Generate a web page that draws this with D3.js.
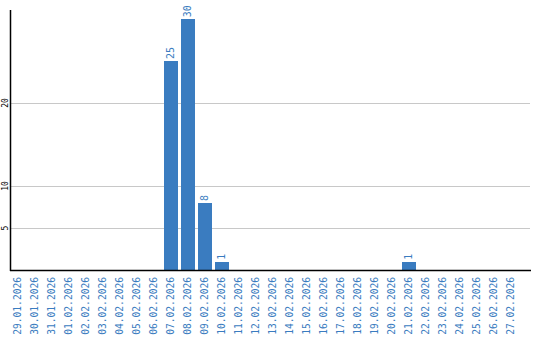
<!DOCTYPE html>
<html>
<head>
<meta charset="utf-8">
<script src="https://cdn.jsdelivr.net/npm/d3@7"></script>
<style>
  body { margin: 0; background: #fff; }
</style>
</head>
<body>
<div id="chart"></div>
<script>
// data
const dates = ["29.01.2026","30.01.2026","31.01.2026","01.02.2026","02.02.2026","03.02.2026",
  "04.02.2026","05.02.2026","06.02.2026","07.02.2026","08.02.2026","09.02.2026","10.02.2026",
  "11.02.2026","12.02.2026","13.02.2026","14.02.2026","15.02.2026","16.02.2026","17.02.2026",
  "18.02.2026","19.02.2026","20.02.2026","21.02.2026","22.02.2026","23.02.2026","24.02.2026",
  "25.02.2026","26.02.2026","27.02.2026"];
const counts = [0,0,0,0,0,0,0,0,0,25,30,8,1,0,0,0,0,0,0,0,0,0,0,1,0,0,0,0,0,0];
const yTicks = [5, 10, 20];

const dataset = dates.map((d, i) => ({ date: d, value: counts[i] }));

const W = 540, H = 340;
const plotLeft = 10, plotRight = 530, plotTop = 10, plotBottom = 270;
const blue = "#3a7cc0";

const svg = d3.select("#chart").append("svg")
  .attr("width", W).attr("height", H);

const x = d3.scaleBand().domain(dates).range([9, 519])
  .paddingInner(3 / 17).paddingOuter(1.5 / 17);
const y = d3.scaleLinear().domain([0, 31.1]).range([plotBottom, plotTop]);

// gridlines
svg.selectAll(".grid")
  .data(yTicks)
  .enter().append("line")
  .attr("x1", plotLeft).attr("x2", plotRight)
  .attr("y1", d => Math.round(y(d)) + 0.5)
  .attr("y2", d => Math.round(y(d)) + 0.5)
  .attr("stroke", "#c8c8c8").attr("stroke-width", 1);

// y tick labels (rotated)
svg.selectAll(".ylab")
  .data(yTicks)
  .enter().append("text")
  .attr("transform", d => `translate(7.5,${Math.round(y(d))}) rotate(-90)`)
  .attr("text-anchor", "middle")
  .style("font-family", "DejaVu Sans Mono, monospace")
  .style("font-size", "8px")
  .style("fill", "#000")
  .text(d => d);

// bars
svg.selectAll(".bar")
  .data(dataset.filter(d => d.value > 0))
  .enter().append("rect")
  .attr("x", d => Math.round(x(d.date)))
  .attr("y", d => Math.round(y(d.value)))
  .attr("width", Math.round(x.bandwidth()))
  .attr("height", d => plotBottom - Math.round(y(d.value)))
  .attr("fill", blue);

// value labels
svg.selectAll(".vlab")
  .data(dataset.filter(d => d.value > 0))
  .enter().append("text")
  .attr("transform", d => `translate(${x(d.date) + x.bandwidth() / 2 + 3.5},${y(d.value) - 2}) rotate(-90)`)
  .attr("text-anchor", "start")
  .style("font-family", "DejaVu Sans Mono, monospace")
  .style("font-size", "10px")
  .style("fill", blue)
  .text(d => d.value);

// axis lines
svg.append("line")
  .attr("x1", plotLeft + 0.5).attr("x2", plotLeft + 0.5)
  .attr("y1", plotTop).attr("y2", plotBottom + 1)
  .attr("stroke", "#000").attr("stroke-width", 1.5);
svg.append("line")
  .attr("x1", plotLeft).attr("x2", plotRight + 1)
  .attr("y1", plotBottom + 0.5).attr("y2", plotBottom + 0.5)
  .attr("stroke", "#000").attr("stroke-width", 1.5);

// x labels (rotated)
svg.selectAll(".xlab")
  .data(dates)
  .enter().append("text")
  .attr("transform", d => `translate(${x(d) + x.bandwidth() / 2 + 3.5},277) rotate(-90)`)
  .attr("text-anchor", "end")
  .style("font-family", "DejaVu Sans Mono, monospace")
  .style("font-size", "9.6px")
  .style("fill", blue)
  .text(d => d);
</script>
</body>
</html>
